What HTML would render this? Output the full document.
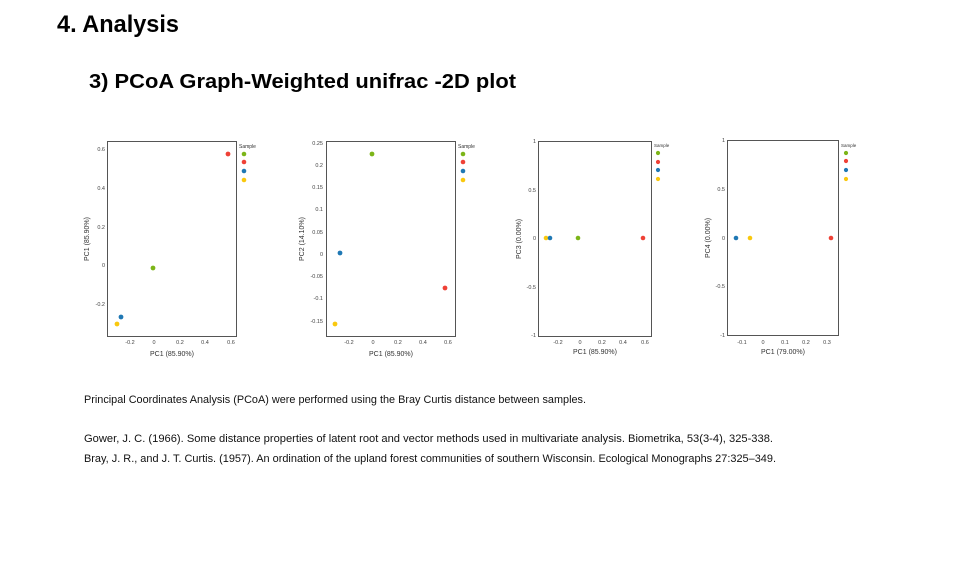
<!DOCTYPE html>
<html><head><meta charset="utf-8"><style>
html,body{margin:0;padding:0;background:#fff;}
svg{display:block;font-family:"Liberation Sans","Noto Sans CJK KR",sans-serif;}
.t{fill:#444;font-size:5.5px;}
.l{fill:#333;font-size:7px;}
</style></head><body>
<svg width="955" height="576" viewBox="0 0 955 576" xmlns="http://www.w3.org/2000/svg">
<text x="57" y="32" font-size="24" font-weight="bold" fill="#000" textLength="122" lengthAdjust="spacingAndGlyphs">4. Analysis</text>
<text x="89" y="88" font-size="20" font-weight="bold" fill="#000" textLength="427" lengthAdjust="spacingAndGlyphs">3) PCoA Graph-Weighted unifrac -2D plot</text>

<!-- Plot 1 -->
<rect x="107.5" y="141.5" width="129" height="195" fill="none" stroke="#555" stroke-width="1"/>
<g class="t" text-anchor="end">
<text x="105" y="151">0.6</text><text x="105" y="190">0.4</text><text x="105" y="229">0.2</text><text x="105" y="267">0</text><text x="105" y="306">-0.2</text>
</g>
<g class="t" text-anchor="middle">
<text x="130" y="344">-0.2</text><text x="154" y="344">0</text><text x="180" y="344">0.2</text><text x="205" y="344">0.4</text><text x="231" y="344">0.6</text>
</g>
<text class="l" x="172" y="356" text-anchor="middle">PC1 (85.90%)</text>
<text class="l" transform="translate(89,239) rotate(-90)" text-anchor="middle">PC1 (85.90%)</text>
<circle cx="228" cy="154" r="2.4" fill="#ef4136"/>
<circle cx="153" cy="268" r="2.4" fill="#7cb518"/>
<circle cx="121" cy="317" r="2.4" fill="#1f78b4"/>
<circle cx="117" cy="324" r="2.4" fill="#f9c80e"/>
<text x="239" y="148" font-size="5" fill="#333">Sample</text>
<circle cx="244" cy="154" r="2.3" fill="#7cb518"/><circle cx="244" cy="162" r="2.3" fill="#ef4136"/><circle cx="244" cy="171" r="2.3" fill="#1f78b4"/><circle cx="244" cy="180" r="2.3" fill="#f9c80e"/>

<!-- Plot 2 -->
<rect x="326.5" y="141.5" width="129" height="195" fill="none" stroke="#555" stroke-width="1"/>
<g class="t" text-anchor="end">
<text x="323" y="145">0.25</text><text x="323" y="167">0.2</text><text x="323" y="189">0.15</text><text x="323" y="211">0.1</text><text x="323" y="234">0.05</text><text x="323" y="256">0</text><text x="323" y="278">-0.05</text><text x="323" y="300">-0.1</text><text x="323" y="323">-0.15</text>
</g>
<g class="t" text-anchor="middle">
<text x="349" y="344">-0.2</text><text x="373" y="344">0</text><text x="398" y="344">0.2</text><text x="423" y="344">0.4</text><text x="448" y="344">0.6</text>
</g>
<text class="l" x="391" y="356" text-anchor="middle">PC1 (85.90%)</text>
<text class="l" transform="translate(304,239) rotate(-90)" text-anchor="middle">PC2 (14.10%)</text>
<circle cx="372" cy="154" r="2.4" fill="#7cb518"/>
<circle cx="340" cy="253" r="2.4" fill="#1f78b4"/>
<circle cx="445" cy="288" r="2.4" fill="#ef4136"/>
<circle cx="335" cy="324" r="2.4" fill="#f9c80e"/>
<text x="458" y="148" font-size="5" fill="#333">Sample</text>
<circle cx="463" cy="154" r="2.3" fill="#7cb518"/><circle cx="463" cy="162" r="2.3" fill="#ef4136"/><circle cx="463" cy="171" r="2.3" fill="#1f78b4"/><circle cx="463" cy="180" r="2.3" fill="#f9c80e"/>

<!-- Plot 3 -->
<rect x="538.5" y="141.5" width="113" height="195" fill="none" stroke="#555" stroke-width="1"/>
<g class="t" text-anchor="end">
<text x="536" y="143">1</text><text x="536" y="192">0.5</text><text x="536" y="240">0</text><text x="536" y="289">-0.5</text><text x="536" y="337">-1</text>
</g>
<g class="t" text-anchor="middle">
<text x="558" y="344">-0.2</text><text x="580" y="344">0</text><text x="602" y="344">0.2</text><text x="623" y="344">0.4</text><text x="645" y="344">0.6</text>
</g>
<text class="l" x="595" y="354" text-anchor="middle">PC1 (85.90%)</text>
<text class="l" transform="translate(521,239) rotate(-90)" text-anchor="middle">PC3 (0.00%)</text>
<circle cx="546" cy="238" r="2.3" fill="#f9c80e"/>
<circle cx="550" cy="238" r="2.3" fill="#1f78b4"/>
<circle cx="578" cy="238" r="2.3" fill="#7cb518"/>
<circle cx="643" cy="238" r="2.3" fill="#ef4136"/>
<text x="654" y="147" font-size="4.5" fill="#333">Sample</text>
<circle cx="658" cy="153" r="2.1" fill="#7cb518"/><circle cx="658" cy="162" r="2.1" fill="#ef4136"/><circle cx="658" cy="170" r="2.1" fill="#1f78b4"/><circle cx="658" cy="179" r="2.1" fill="#f9c80e"/>

<!-- Plot 4 -->
<rect x="727.5" y="140.5" width="111" height="195" fill="none" stroke="#555" stroke-width="1"/>
<g class="t" text-anchor="end">
<text x="725" y="142">1</text><text x="725" y="191">0.5</text><text x="725" y="240">0</text><text x="725" y="288">-0.5</text><text x="725" y="337">-1</text>
</g>
<g class="t" text-anchor="middle">
<text x="742" y="344">-0.1</text><text x="763" y="344">0</text><text x="785" y="344">0.1</text><text x="806" y="344">0.2</text><text x="827" y="344">0.3</text>
</g>
<text class="l" x="783" y="354" text-anchor="middle">PC1 (79.00%)</text>
<text class="l" transform="translate(710,238) rotate(-90)" text-anchor="middle">PC4 (0.00%)</text>
<circle cx="736" cy="238" r="2.3" fill="#1f78b4"/>
<circle cx="750" cy="238" r="2.3" fill="#f9c80e"/>
<circle cx="831" cy="238" r="2.3" fill="#ef4136"/>
<text x="841" y="147" font-size="4.5" fill="#333">Sample</text>
<circle cx="846" cy="153" r="2.1" fill="#7cb518"/><circle cx="846" cy="161" r="2.1" fill="#ef4136"/><circle cx="846" cy="170" r="2.1" fill="#1f78b4"/><circle cx="846" cy="179" r="2.1" fill="#f9c80e"/>

<g font-size="11" fill="#111">
<text x="84" y="403" textLength="502" lengthAdjust="spacingAndGlyphs">Principal Coordinates Analysis (PCoA) were performed using the Bray Curtis distance between samples.</text>
<text x="84" y="442" textLength="689" lengthAdjust="spacingAndGlyphs">Gower, J. C. (1966). Some distance properties of latent root and vector methods used in multivariate analysis. Biometrika, 53(3-4), 325-338.</text>
<text x="84" y="462" textLength="692" lengthAdjust="spacingAndGlyphs">Bray, J. R., and J. T. Curtis. (1957). An ordination of the upland forest communities of southern Wisconsin. Ecological Monographs 27:325–349.</text>
</g>
</svg>
</body></html>
